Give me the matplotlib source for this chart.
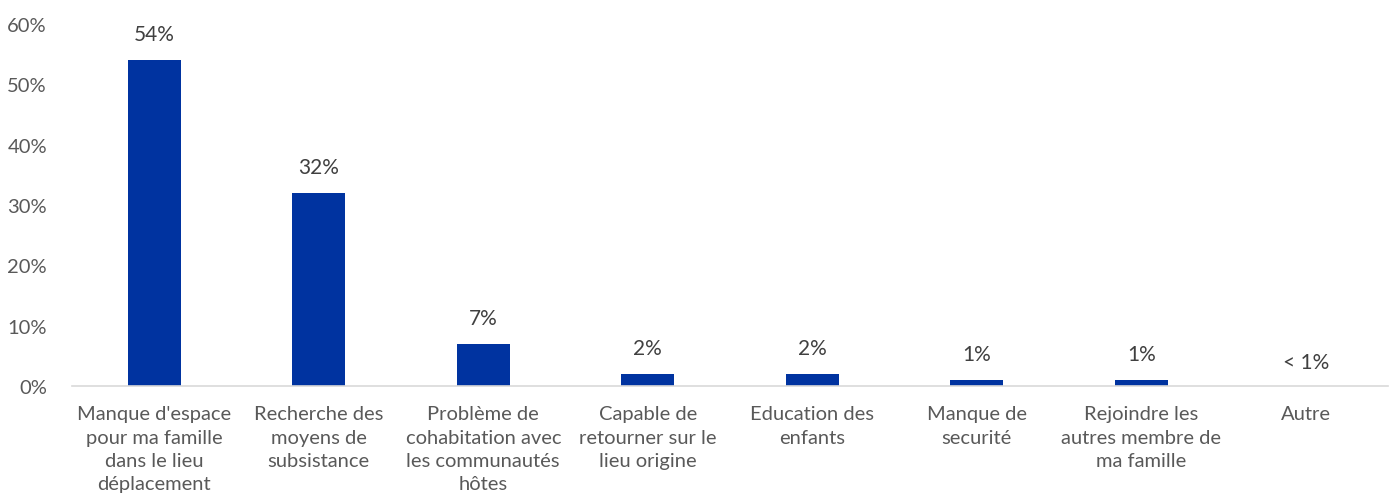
import matplotlib
matplotlib.use("Agg")
import matplotlib.pyplot as plt

# raisons (en %)
categories = [
    "Manque d'espace\npour ma famille\ndans le lieu\ndéplacement",
    "Recherche des\nmoyens de\nsubsistance",
    "Problème de\ncohabitation avec\nles communautés\nhôtes",
    "Capable de\nretourner sur le\nlieu origine",
    "Education des\nenfants",
    "Manque de\nsecurité",
    "Rejoindre les\nautres membre de\nma famille",
    "Autre",
]
values = [54, 32, 7, 2, 2, 1, 1, 0]
value_labels = ["54%", "32%", "7%", "2%", "2%", "1%", "1%", "< 1%"]
yticks = [0, 10, 20, 30, 40, 50, 60]

plt.rcParams['font.family'] = ['Lato', 'DejaVu Sans']
grey = "#595959"

fig = plt.figure(figsize=(13.97, 5.02), dpi=100)
ax = fig.add_axes([72 / 1397, 1 - 387 / 502, 1316 / 1397, 362 / 502])

x = list(range(len(categories)))
ax.bar(x, values, width=0.32, color="#0033A0", zorder=2)

for xi, v, lab in zip(x, values, value_labels):
    off = 4.3 if v > 0 else 4.0
    ax.text(xi, v + off, lab, ha="center", va="center", fontsize=15, color="#404040")

ax.set_xlim(-0.5, len(categories) - 0.5)
ax.set_ylim(0, 60)
ax.set_yticks(yticks)
ax.set_yticklabels([f"{t}%" for t in yticks])
ax.set_xticks(x)
ax.set_xticklabels(categories, linespacing=1.45)

ax.tick_params(axis="y", length=0, pad=18, labelsize=14.5, labelcolor=grey)
ax.tick_params(axis="x", length=0, pad=14, labelsize=14.5, labelcolor=grey)

for s in ["top", "right", "left"]:
    ax.spines[s].set_visible(False)
ax.spines["bottom"].set_color("#d9d9d9")
ax.spines["bottom"].set_linewidth(1.2)

fig.savefig("out.png", dpi=100)
